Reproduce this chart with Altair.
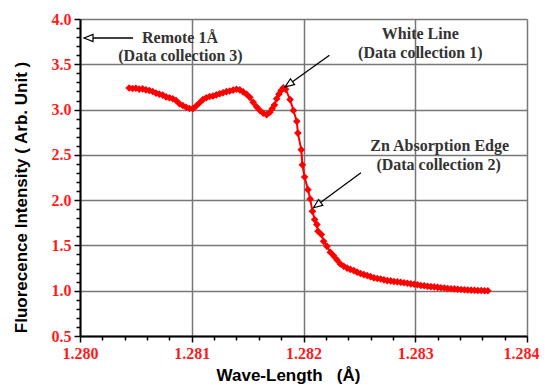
import altair as alt
import pandas as pd

# ---- data ----
wl_pre = [1.28044, 1.28047, 1.28050, 1.28053, 1.28056, 1.28059, 1.28062, 1.28065, 1.28068, 1.28071,
          1.28074, 1.28077, 1.28080, 1.28083, 1.28086, 1.28089, 1.28092, 1.28095, 1.28098, 1.28101,
          1.28104, 1.28107, 1.28110, 1.28113, 1.28116, 1.28119, 1.28122, 1.28125, 1.28128, 1.28131,
          1.28134, 1.28137, 1.28140, 1.28143, 1.28146, 1.28149, 1.28152, 1.28155, 1.28158, 1.28161,
          1.28164, 1.28167, 1.28170, 1.28172, 1.28174, 1.28176, 1.28178, 1.28180, 1.28182, 1.28184]
fl_pre = [3.238, 3.232, 3.235, 3.226, 3.228, 3.218, 3.210, 3.200, 3.182, 3.170,
          3.160, 3.140, 3.130, 3.120, 3.100, 3.065, 3.045, 3.025, 3.012, 3.010,
          3.040, 3.075, 3.110, 3.130, 3.145, 3.150, 3.162, 3.175, 3.185, 3.198,
          3.205, 3.215, 3.225, 3.218, 3.195, 3.170, 3.135, 3.080, 3.030, 2.990,
          2.960, 2.944, 2.970, 3.010, 3.050, 3.120, 3.170, 3.210, 3.240, 3.225]

wl_edge = [1.28188, 1.28191, 1.28194, 1.28195, 1.28198, 1.28199, 1.28201, 1.28204, 1.28206, 1.28208,
           1.28210, 1.28212, 1.28213, 1.28216, 1.28218]
fl_edge = [3.110, 2.990, 2.870, 2.740, 2.557, 2.390, 2.256, 2.116, 2.013, 1.876,
           1.785, 1.730, 1.656, 1.620, 1.545]

wl_post = [1.28221, 1.28224, 1.28227, 1.28230, 1.28233, 1.28236, 1.28239, 1.28242, 1.28245, 1.28248,
           1.28251, 1.28254, 1.28257, 1.28260, 1.28263, 1.28266, 1.28269, 1.28272, 1.28275, 1.28278,
           1.28281, 1.28284, 1.28287, 1.28290, 1.28293, 1.28296, 1.28299, 1.28302, 1.28305, 1.28308,
           1.28311, 1.28314, 1.28317, 1.28320, 1.28323, 1.28326, 1.28329, 1.28332, 1.28335, 1.28338,
           1.28341, 1.28344, 1.28347, 1.28350, 1.28353, 1.28356, 1.28359, 1.28362, 1.28365]
fl_post = [1.490, 1.425, 1.385, 1.340, 1.295, 1.270, 1.250, 1.235, 1.222, 1.205,
           1.190, 1.178, 1.168, 1.155, 1.142, 1.135, 1.130, 1.120, 1.112, 1.108,
           1.102, 1.098, 1.093, 1.088, 1.082, 1.076, 1.072, 1.066, 1.058, 1.055,
           1.050, 1.045, 1.042, 1.037, 1.032, 1.030, 1.025, 1.022, 1.020, 1.016,
           1.013, 1.011, 1.008, 1.006, 1.005, 1.003, 1.002, 1.000, 1.000]

x_ticks = [1.2800, 1.2802, 1.2804, 1.2806, 1.2808, 1.2810, 1.2812, 1.2814, 1.2816, 1.2818,
           1.2820, 1.2822, 1.2824, 1.2826, 1.2828, 1.2830, 1.2832, 1.2834, 1.2836, 1.2838, 1.2840]
y_ticks = [0.5, 0.6, 0.7, 0.8, 0.9, 1.0, 1.1, 1.2, 1.3, 1.4, 1.5, 1.6, 1.7, 1.8, 1.9, 2.0,
           2.1, 2.2, 2.3, 2.4, 2.5, 2.6, 2.7, 2.8, 2.9, 3.0, 3.1, 3.2, 3.3, 3.4, 3.5,
           3.6, 3.7, 3.8, 3.9, 4.0]

ann_text = ["Remote 1Å", "(Data collection 3)", "White Line", "(Data collection 1)",
            "Zn Absorption Edge", "(Data collection 2)"]
ann_x = [1.280895, 1.280899, 1.283045, 1.283045, 1.283219, 1.283209]
ann_y = [3.790, 3.588, 3.835, 3.625, 2.595, 2.386]

arrow_from_x = [1.280475, 1.282232, 1.282514]
arrow_from_y = [3.790, 3.599, 2.302]
arrow_tip_x = [1.280036, 1.281836, 1.282089]
arrow_tip_y = [3.790, 3.250, 1.916]
arrow_angle = [270, 234.5, 233.6]

curve = pd.DataFrame({"x": wl_pre + wl_edge + wl_post, "y": fl_pre + fl_edge + fl_post})
ann = pd.DataFrame({"x": ann_x, "y": ann_y, "label": ann_text})
rules = pd.DataFrame({"x": arrow_from_x, "y": arrow_from_y, "x2": arrow_tip_x, "y2": arrow_tip_y})
heads = pd.DataFrame({"x": arrow_tip_x, "y": arrow_tip_y, "angle": arrow_angle})

test_x = "abs(datum.value*1000 - round(datum.value*1000)) < 0.01"
test_y = "abs(datum.value*2 - round(datum.value*2)) < 0.01"
label_red = "#ff1a1a"

x_axis = alt.Axis(
    values=x_ticks,
    title="Wave-Length\u00a0\u00a0\u00a0(Å)",
    labelExpr=f"({test_x}) ? format(datum.value, '.3f') : ''",
    labelFont="Liberation Serif", labelFontWeight="bold", labelFontSize=16,
    labelColor=label_red, labelPadding=3, labelFlush=False, labelOverlap=False,
    labelOffset={"condition": {"test": "datum.value > 1.28395", "value": -6}, "value": 0},
    tickColor="black", tickWidth=1.5,
    tickSize={"condition": {"test": test_x, "value": 6}, "value": 4},
    domainColor="black", domainWidth=2,
    grid=True, gridColor="#777777", gridWidth=1.5,
    gridOpacity={"condition": {"test": test_x, "value": 1}, "value": 0},
    titleFont="Liberation Sans", titleFontSize=17, titleFontWeight="bold", titleColor="black",
    titleX=208, titleY=44, titleBaseline="alphabetic", titleAlign="center",
)
y_axis = alt.Axis(
    values=y_ticks,
    title="Fluorecence Intensity ( Arb. Unit )",
    labelExpr=f"({test_y}) ? format(datum.value, '.1f') : ''",
    labelFont="Liberation Serif", labelFontWeight="bold", labelFontSize=16,
    labelColor=label_red, labelPadding=3, labelFlush=False, labelOverlap=False,
    tickColor="black", tickWidth=1.5,
    tickSize={"condition": {"test": test_y, "value": 6}, "value": 4},
    domainColor="black", domainWidth=2,
    grid=True, gridColor="#777777", gridWidth=1.5,
    gridOpacity={"condition": {"test": test_y, "value": 1}, "value": 0},
    titleFont="Liberation Sans", titleFontSize=17, titleFontWeight="bold", titleColor="black",
    titleX=-59, titleY=178, titleAngle=270, titleBaseline="middle", titleAlign="center",
)

xs = alt.Scale(domain=[1.280, 1.284], nice=False, zero=False)
ys = alt.Scale(domain=[0.5, 4.0], nice=False, zero=False)
X = alt.X("x:Q", scale=xs, axis=x_axis)
Y = alt.Y("y:Q", scale=ys, axis=y_axis)

line = alt.Chart(curve).mark_line(color="#ff0000", strokeWidth=2).encode(X, Y)
pts = alt.Chart(curve).mark_point(shape="diamond", filled=True, size=58, color="#ff0000",
                                  opacity=1).encode(X, Y)
arrows = alt.Chart(rules).mark_rule(color="black", strokeWidth=1.3).encode(
    X, Y, x2="x2:Q", y2="y2:Q")
arrowheads = alt.Chart(heads).mark_point(
    shape="M0,0L-0.4,1L0.4,1Z", filled=True, fill="white", stroke="black",
    strokeWidth=1.2, size=324, opacity=1).encode(X, Y, angle=alt.Angle("angle:Q", scale=None))
texts = alt.Chart(ann).mark_text(
    font="Liberation Serif", fontWeight="bold", fontSize=16, color="#333333",
    align="center", baseline="middle").encode(X, Y, text="label:N")

chart = alt.layer(line, pts, arrows, arrowheads, texts).properties(
    width=447, height=317,
    autosize=alt.AutoSizeParams(type="none"),
    padding={"left": 72, "top": 11, "right": 12, "bottom": 48},
    background="white",
).configure_view(stroke=None)

chart.save("out.html", embed_options={"renderer": "svg", "actions": False})
